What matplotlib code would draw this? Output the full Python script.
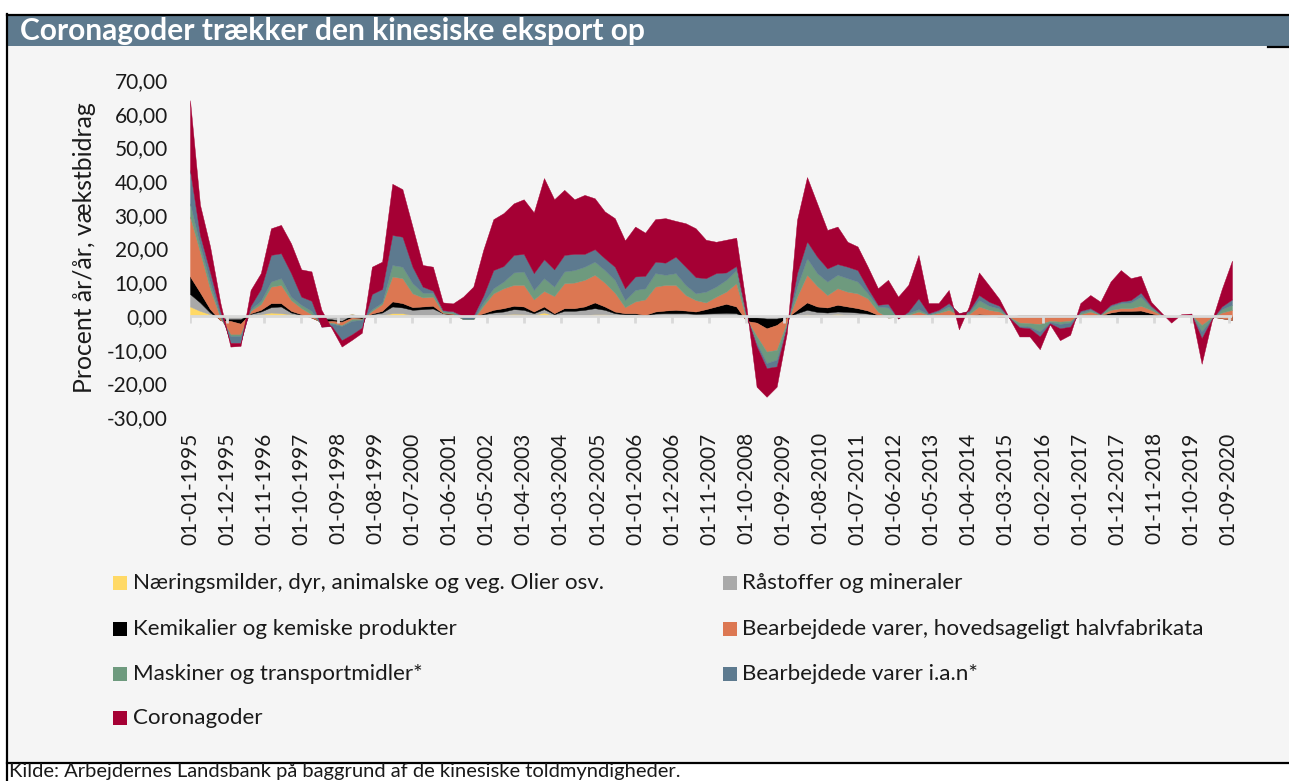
import matplotlib
matplotlib.use('Agg')
import matplotlib.pyplot as plt
from matplotlib.patches import Rectangle
from matplotlib.lines import Line2D
import pandas as pd

plt.rcParams['font.family'] = ['Lato', 'DejaVu Sans']

# ---------------- data (quarterly, growth contributions, pct y/y) ----------------
dates = pd.date_range('1995-01-01', periods=104, freq='3MS')
tick_dates = pd.date_range('1995-01-01', periods=29, freq='11MS')
tick_labels = [d.strftime('%d-%m-%Y') for d in tick_dates]

series_names = [
    'Næringsmilder, dyr, animalske og veg. Olier osv.',
    'Råstoffer og mineraler',
    'Kemikalier og kemiske produkter',
    'Bearbejdede varer, hovedsageligt halvfabrikata',
    'Maskiner og transportmidler*',
    'Bearbejdede varer i.a.n*',
    'Coronagoder',
]

naering = [
    2.8, 1.5, 0.5, -0.2, -0.3, -0.3, 0.3, 0.5, 1.0, 0.8,
    0.5, 0.2, 0.0, -0.2, -0.2, 0.0, 0.5, 0.0, 0.2, 0.3,
    0.8, 0.8, 0.3, 0.2, 0.2, 0.1, 0.0, 0.0, 0.0, 0.1,
    0.2, 0.4, 0.6, 0.5, 0.3, 1.0, 0.2, 0.3, 0.3, 0.3,
    0.5, 0.5, 0.3, 0.2, 0.1, 0.0, 0.2, 0.2, 0.2, 0.1,
    0.1, 0.1, 0.1, 0.1, 0.1, 0.0, 0.0, -0.2, -0.2, 0.0,
    0.2, 0.5, 0.2, 0.3, 0.6, 0.3, 0.2, 0.1, 0.0, 0.0,
    0.0, 0.0, 0.0, 0.0, 0.0, 0.0, 0.0, 0.0, 0.1, 0.0,
    0.0, 0.0, 0.0, 0.0, 0.0, 0.0, 0.0, 0.0, 0.0, 0.0,
    0.0, 0.0, 0.0, 0.0, 0.0, 0.0, 0.0, 0.0, 0.0, 0.0,
    0.0, 0.0, 0.0, 0.0,
]
raastoffer = [
    3.7, 2.5, 0.5, -0.8, -0.7, -0.7, 0.3, 0.8, 1.6, 2.0,
    0.5, 0.1, -0.3, -0.6, -0.8, -1.5, -0.3, -0.3, 0.3, 0.7,
    2.0, 1.7, 1.5, 1.8, 2.0, 0.7, 0.5, -0.1, -0.1, 0.4,
    0.8, 0.9, 1.4, 1.3, 0.5, 1.0, 0.3, 1.2, 1.2, 1.5,
    1.8, 1.3, 0.5, 0.3, 0.4, 0.2, 0.5, 0.6, 0.6, 0.7,
    0.5, 0.6, 0.7, 0.8, 0.7, -0.5, -0.5, -0.6, -0.6, -0.2,
    0.6, 1.3, 1.0, 0.7, 0.7, 0.9, 0.8, 0.6, 0.2, 0.0,
    0.0, 0.0, 0.1, 0.0, 0.0, 0.1, 0.0, 0.0, 0.3, 0.2,
    0.0, 0.0, 0.1, 0.1, 0.1, 0.1, 0.1, 0.1, 0.1, 0.1,
    0.1, 0.2, 0.3, 0.3, 0.3, 0.2, 0.0, -0.1, 0.0, 0.0,
    0.0, 0.0, -0.2, -0.3,
]
kemikalier = [
    5.2, 3.0, 1.0, -0.3, -0.5, -1.3, 0.2, 0.5, 1.2, 1.0,
    0.5, 0.2, -0.2, -1.0, -0.5, -0.3, -0.7, -0.5, 0.2, 0.5,
    1.5, 1.3, 0.8, 0.8, 0.8, 0.0, 0.0, -0.1, -0.1, 0.3,
    0.8, 1.0, 1.0, 1.0, 0.5, 0.8, 0.3, 0.8, 0.8, 1.0,
    1.7, 1.0, 0.5, 0.3, 0.3, 0.1, 0.6, 0.8, 1.0, 0.8,
    0.7, 1.3, 2.0, 2.7, 2.0, -1.0, -1.5, -2.9, -1.9, -0.3,
    1.0, 2.2, 1.6, 1.5, 2.0, 1.6, 1.3, 0.9, 0.1, 0.0,
    0.0, 0.0, 0.1, 0.0, 0.2, 0.2, 0.0, 0.0, 0.2, 0.1,
    -0.3, -0.3, 0.1, 0.1, 0.1, 0.1, 0.1, 0.1, 0.1, 0.2,
    0.1, 0.8, 1.2, 1.2, 1.3, 0.6, 0.1, -0.1, 0.0, 0.0,
    -0.3, -0.2, -0.5, -0.9,
]
halvfabrikata = [
    17.8, 12.0, 6.0, 0.8, -4.0, -3.2, 0.7, 1.7, 4.9, 5.4,
    3.2, 1.8, 1.0, -0.4, -0.5, -1.0, -0.5, -0.2, 0.8, 2.0,
    7.4, 7.4, 4.1, 2.7, 2.7, 0.2, 0.2, -0.8, -0.8, 2.2,
    4.9, 5.9, 6.2, 6.4, 3.6, 4.6, 5.1, 7.4, 7.6, 7.9,
    8.2, 7.1, 5.6, 1.8, 3.5, 4.6, 7.4, 7.6, 7.4, 4.6,
    3.4, 2.0, 2.9, 3.6, 6.9, 0.5, -4.0, -6.9, -7.4, -1.5,
    3.9, 8.2, 6.1, 3.7, 4.9, 4.4, 4.4, 3.6, 1.0, -0.5,
    -0.3, 0.3, 1.1, 0.3, 0.7, 1.5, 0.3, 0.5, 2.2, 1.5,
    1.6, -0.1, -2.2, -2.4, -2.6, -1.7, -1.9, -1.7, 0.3, 1.0,
    0.1, 0.8, 0.8, 0.8, 1.4, 1.0, 0.2, -0.1, 0.1, 0.2,
    -2.4, -0.3, 1.7, 3.0,
]
maskiner = [
    3.9, 2.0, 2.0, 0.5, -0.5, -0.5, 0.5, 1.0, 1.5, 2.0,
    1.0, 1.0, 1.0, -0.4, -0.3, -0.2, -0.5, -0.2, 0.5, 0.5,
    3.4, 3.4, 3.0, 1.4, 1.1, 0.4, 0.5, 0.2, 0.2, 1.0,
    1.5, 2.0, 3.7, 4.0, 2.8, 3.8, 2.8, 3.5, 3.7, 3.9,
    3.9, 3.7, 3.8, 2.1, 3.4, 3.3, 4.0, 3.0, 3.5, 3.0,
    2.0, 3.2, 3.0, 3.5, 3.9, 0.5, -2.0, -3.4, -2.9, -0.8,
    3.0, 4.9, 3.8, 4.0, 4.0, 4.0, 3.5, 1.5, 1.5, 3.0,
    -0.2, 0.5, 0.7, 0.2, 0.4, 1.0, 0.2, 0.5, 1.9, 1.2,
    0.9, -0.1, -1.0, -1.0, -2.2, -0.3, -0.7, -0.5, 0.5, 0.5,
    0.2, 1.0, 1.5, 1.7, 2.7, 0.7, 0.1, -0.1, 0.1, 0.1,
    -1.9, -0.3, 1.0, 1.5,
]
ian = [
    9.9, 3.0, 3.0, 1.5, -2.0, -2.0, 1.0, 3.5, 7.9, 7.4,
    7.0, 2.4, 3.0, -0.6, -0.7, -4.2, -4.0, -2.3, 4.5, 4.0,
    8.9, 8.9, 4.9, 1.8, 0.7, 0.3, 0.2, 0.8, 0.8, 2.0,
    5.4, 4.6, 5.2, 5.2, 5.0, 5.6, 5.1, 4.9, 4.8, 3.8,
    3.7, 3.5, 3.9, 3.5, 4.0, 3.7, 3.4, 3.6, 4.9, 5.4,
    4.8, 4.0, 4.0, 2.2, 1.2, 0.5, -1.0, -1.5, -2.0, -0.4,
    4.0, 5.0, 4.9, 3.9, 3.2, 3.4, 3.4, 1.5, 0.5, 1.1,
    -0.3, 0.5, 3.2, 0.3, 0.5, 1.0, 0.3, 0.5, 1.5, 1.2,
    0.8, -0.1, -0.4, -0.5, -1.5, -0.4, -1.3, -1.2, 0.5, 0.5,
    0.1, 0.5, 0.5, 0.7, 1.2, 0.5, 0.1, -0.1, 0.1, 0.1,
    -2.0, -0.2, 0.8, 1.6,
]
corona = [
    20.7, 9.0, 7.6, 2.5, -1.1, -0.9, 4.7, 4.7, 7.9, 8.4,
    8.8, 8.1, 8.7, 5.0, -0.6, -1.9, -1.6, -1.5, 8.1, 8.1,
    15.2, 14.1, 11.9, 6.4, 7.1, 2.3, 2.3, 5.7, 8.7, 13.6,
    15.1, 15.7, 15.3, 16.2, 18.0, 24.1, 20.8, 19.3, 16.2, 17.5,
    15.1, 13.9, 14.4, 14.2, 14.8, 12.8, 12.6, 13.2, 10.6, 12.9,
    14.5, 11.4, 9.3, 9.7, 8.4, 2.8, -12.0, -8.5, -6.0, -1.8,
    15.8, 19.1, 15.8, 11.4, 11.1, 7.4, 7.0, 6.4, 4.9, 7.1,
    6.5, 7.9, 12.9, 3.0, 2.0, 3.9, -4.8, 1.3, 6.7, 4.8,
    2.0, -0.1, -2.7, -2.4, -3.8, -0.3, -3.5, -2.4, 2.3, 3.9,
    3.6, 6.9, 9.3, 6.5, 5.0, 1.2, 0.5, -1.5, 0.2, 0.3,
    -7.6, -0.5, 5.2, 11.5,
]

colors = ['#FFD966', '#A9A9A9', '#000000', '#DC7752', '#6E9A7E', '#5D7A8F', '#A50034']

# ---------------- figure ----------------
W, H = 1289, 781
fig = plt.figure(figsize=(W / 100, H / 100), dpi=100)
fig.patch.set_facecolor('white')


def fx(px):
    return px / W


def fy(py):
    return 1 - py / H


# panel background, title bar, frame lines
fig.add_artist(Rectangle((fx(7), fy(762)), fx(W) - fx(7), fy(46) - fy(762),
                         transform=fig.transFigure, facecolor='#F5F5F5',
                         edgecolor='none', zorder=0))
fig.add_artist(Rectangle((fx(7), fy(46)), fx(W) - fx(7), fy(15) - fy(46),
                         transform=fig.transFigure, facecolor='#5E7A8E',
                         edgecolor='none', zorder=0))
for (x0, y0, x1, y1) in [(7, 14.5, W, 14.5), (7, 14, 7, H), (7, 762.5, W, 762.5),
                         (1268, 46.5, W, 46.5)]:
    fig.add_artist(Line2D([fx(x0), fx(x1)], [fy(y0), fy(y1)],
                          transform=fig.transFigure, color='black', lw=1.6, zorder=1))

fig.text(fx(20), fy(31), 'Coronagoder trækker den kinesiske eksport op',
         color='white', fontsize=21.5, fontweight='bold', ha='left', va='center')

ax = fig.add_axes([fx(190), fy(417), (1232 - 190) / W, (417 - 80) / H])
ax.set_facecolor('none')

polys = ax.stackplot(dates, naering, raastoffer, kemikalier, halvfabrikata,
                     maskiner, ian, corona, colors=colors, labels=series_names)
for p, c in zip(polys, colors):
    p.set_edgecolor(c)
    p.set_linewidth(0.3)

ax.set_xlim(dates[0], dates[-1])
ax.set_ylim(-30, 70)
yt = list(range(-30, 71, 10))
ax.set_yticks(yt)
ax.set_yticklabels([f'{v:.2f}'.replace('.', ',') for v in yt])
ax.set_xticks(tick_dates)
ax.set_xticklabels(tick_labels, rotation=90)
ax.tick_params(axis='both', length=0, labelsize=15, colors='#1a1a1a')
ax.tick_params(axis='x', pad=11)
ax.tick_params(axis='y', pad=16)
for s in ax.spines.values():
    s.set_visible(False)

ax.axhline(0, color='#D9D9D9', lw=2, zorder=5)
ax.vlines(tick_dates, -2.2, 0, color='#D9D9D9', lw=2, zorder=5)

fig.text(fx(85), fy(248), 'Procent år/år, vækstbidrag', rotation=90,
         ha='center', va='center', fontsize=17.8, color='#1a1a1a')

# legend (two columns, row-wise order)
col_marker_x = [113, 723]
col_text_x = [133, 742]
row_y = [583, 629, 674, 718]
for i, (name, c) in enumerate(zip(series_names, colors)):
    col, row = i % 2, i // 2
    yc = row_y[row]
    fig.add_artist(Rectangle((fx(col_marker_x[col]), fy(yc + 7)), 14 / W, 14 / H,
                             transform=fig.transFigure, facecolor=c,
                             edgecolor='none', zorder=2))
    fig.text(fx(col_text_x[col]), fy(yc), name, ha='left', va='center',
             fontsize=16.1, color='#1a1a1a')

fig.text(fx(9), fy(772), 'Kilde: Arbejdernes Landsbank på baggrund af de kinesiske toldmyndigheder.',
         ha='left', va='center', fontsize=14.5, color='#1a1a1a')

fig.savefig('out.png', dpi=100, facecolor='white')
